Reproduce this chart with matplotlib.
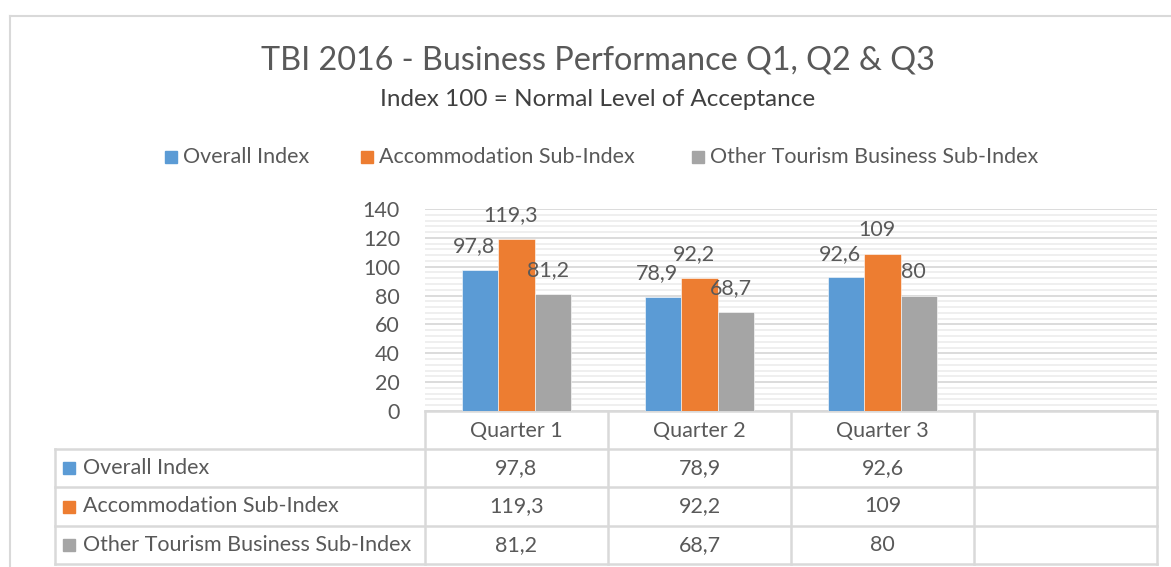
import matplotlib
matplotlib.use("Agg")
import matplotlib.pyplot as plt
from matplotlib.patches import Rectangle
from matplotlib.lines import Line2D
import numpy as np

plt.rcParams['font.family'] = ['Lato', 'DejaVu Sans']

title = "TBI 2016 - Business Performance Q1, Q2 & Q3"
subtitle = "Index 100 = Normal Level of Acceptance"
categories = ["Quarter 1", "Quarter 2", "Quarter 3", ""]
series_names = ["Overall Index", "Accommodation Sub-Index", "Other Tourism Business Sub-Index"]
overall = [97.8, 78.9, 92.6]
accommodation = [119.3, 92.2, 109]
other = [81.2, 68.7, 80]
series_values = [overall, accommodation, other]
colors = ["#5B9BD5", "#ED7D31", "#A5A5A5"]
yticks = [0, 20, 40, 60, 80, 100, 120, 140]

W, H = 1171, 567
TXT = "#595959"
GRID = "#D9D9D9"
FS = 15.5

def fmt(v):
    s = ("%g" % v)
    return s.replace(".", ",")

fig = plt.figure(figsize=(W / 100, H / 100), dpi=100)
fig.patch.set_facecolor("white")

# overlay axes in pixel coordinates
ov = fig.add_axes([0, 0, 1, 1])
ov.set_xlim(0, W)
ov.set_ylim(H, 0)
ov.axis("off")
ov.set_zorder(0)

# outer chart frame
ov.add_line(Line2D([10, 10], [16, H + 5], color="#D9D9D9", lw=1.5))
ov.add_line(Line2D([10, W + 5], [16, 16], color="#D9D9D9", lw=1.5))

# main axes
L, R, T, B = 425, 1157, 209, 411
ax = fig.add_axes([L / W, 1 - B / H, (R - L) / W, (B - T) / H])
ax.set_zorder(2)
ax.patch.set_alpha(0)
ncat = len(categories)
x = np.arange(ncat)
ax.set_xlim(-0.5, ncat - 0.5)
ax.set_ylim(0, 140)
for s in ax.spines.values():
    s.set_visible(False)
ax.set_yticks(yticks)
ax.set_yticklabels([str(t) for t in yticks])
ax.set_yticks(np.arange(0, 141, 4), minor=True)
ax.tick_params(axis="y", which="both", length=0, pad=18, labelsize=FS, labelcolor=TXT)
ax.tick_params(axis="x", which="both", length=0, labelbottom=False)
ax.set_xticks([])
ax.grid(axis="y", which="major", color=GRID, lw=1.3, zorder=0)
ax.grid(axis="y", which="minor", color="#EEEEEE", lw=1.3, zorder=0)
ax.set_axisbelow(True)

bw = 0.2
offsets = [-bw, 0, bw]
for vals, col, off in zip(series_values, colors, offsets):
    xs = x[:len(vals)] + off
    ax.bar(xs, vals, width=bw, color=col, zorder=3, edgecolor="white", linewidth=0.4)
    for xi, v in zip(xs, vals):
        ax.annotate(fmt(v), (xi - 0.03, v), xytext=(0, 17), textcoords="offset points",
                    ha="center", va="center", fontsize=FS, color=TXT, zorder=4)

# title and subtitle
ov.text(598, 61, title, ha="center", va="center", fontsize=23.3, color=TXT)
ov.text(598, 100, subtitle, ha="center", va="center", fontsize=17.5, color="#404040")

# legend
leg_x = [165, 361, 692]
for lx, name, col in zip(leg_x, series_names, colors):
    ov.add_patch(Rectangle((lx, 151), 12, 12, color=col))
    ov.text(lx + 18, 157, name, ha="left", va="center", fontsize=FS, color=TXT)

# data table
to_px = lambda xd: (ax.transData + ov.transData.inverted()).transform((xd, 0))[0]
bounds = [to_px(b) for b in np.arange(-0.5, ncat, 1.0)]
row_y = [411, 449, 487, 526, 564]
tl = 55
lc = GRID
lw = 1.8
ov.add_line(Line2D([bounds[0], bounds[-1]], [row_y[0], row_y[0]], color=lc, lw=lw))
for yy in row_y[1:]:
    ov.add_line(Line2D([tl, bounds[-1]], [yy, yy], color=lc, lw=lw))
ov.add_line(Line2D([tl, tl], [row_y[1], row_y[-1]], color=lc, lw=lw))
for bx in bounds:
    ov.add_line(Line2D([bx, bx], [row_y[0], row_y[-1]], color=lc, lw=lw))
for i, cat in enumerate(categories):
    cx = (bounds[i] + bounds[i + 1]) / 2
    ov.text(cx, (row_y[0] + row_y[1]) / 2 + 1, cat, ha="center", va="center", fontsize=FS, color=TXT)
for r, (name, vals, col) in enumerate(zip(series_names, series_values, colors)):
    yc = (row_y[r + 1] + row_y[r + 2]) / 2
    ov.add_patch(Rectangle((63, yc - 6), 12, 12, color=col))
    ov.text(83, yc, name, ha="left", va="center", fontsize=FS, color=TXT)
    for i, v in enumerate(vals):
        cx = (bounds[i] + bounds[i + 1]) / 2
        ov.text(cx, yc, fmt(v), ha="center", va="center", fontsize=FS, color=TXT)

fig.savefig("out.png", dpi=100, facecolor="white")
